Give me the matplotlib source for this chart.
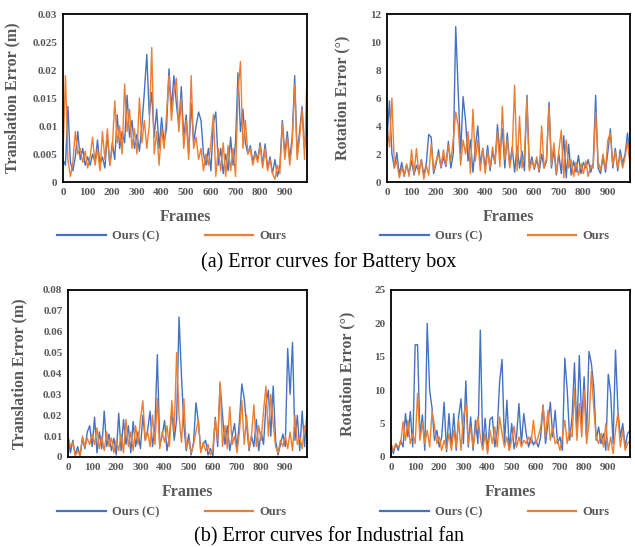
# error curves, battery box + industrial fan
import numpy as np
import matplotlib
matplotlib.use("Agg")
import matplotlib.pyplot as plt

plt.rcParams['font.family'] = ['Liberation Serif', 'DejaVu Serif']

# ── data (every 10th frame) ──────────────────────────────────────────────
FRAMES = list(range(0, 1000, 10))

battery_trans_c = [
    .0040, .0030, .0135, .0035, .0020, .0045, .0090, .0040, .0060, .0030,
    .0045, .0030, .0050, .0035, .0075, .0030, .0045, .0025, .0085, .0030,
    .0070, .0040, .0120, .0060, .0090, .0070, .0155, .0080, .0110, .0060,
    .0085, .0055, .0100, .0160, .0228, .0120, .0160, .0080, .0130, .0060,
    .0115, .0070, .0095, .0202, .0130, .0190, .0140, .0100, .0170, .0080,
    .0120, .0050, .0140, .0070, .0100, .0125, .0110, .0050, .0030, .0060,
    .0020, .0105, .0125, .0030, .0060, .0015, .0050, .0020, .0080, .0030,
    .0070, .0195, .0090, .0130, .0070, .0050, .0065, .0035, .0055, .0040,
    .0070, .0030, .0068, .0025, .0045, .0015, .0040, .0010, .0030, .0110,
    .0050, .0090, .0040, .0080, .0190, .0050, .0090, .0135, .0060, .0100]
battery_trans = [
    .0050, .0190, .0040, .0010, .0035, .0090, .0050, .0060, .0035, .0055,
    .0025, .0045, .0080, .0030, .0060, .0020, .0090, .0040, .0095, .0030,
    .0060, .0145, .0070, .0100, .0050, .0175, .0090, .0130, .0060, .0095,
    .0050, .0150, .0070, .0110, .0060, .0100, .0240, .0050, .0090, .0030,
    .0095, .0060, .0120, .0190, .0110, .0160, .0185, .0090, .0150, .0060,
    .0110, .0040, .0190, .0060, .0080, .0040, .0060, .0020, .0050, .0030,
    .0070, .0120, .0010, .0060, .0020, .0070, .0010, .0065, .0020, .0060,
    .0010, .0160, .0215, .0060, .0110, .0050, .0060, .0030, .0050, .0035,
    .0065, .0025, .0060, .0020, .0040, .0015, .0005, .0030, .0015, .0105,
    .0040, .0080, .0030, .0070, .0175, .0040, .0080, .0130, .0040, .0190]

battery_rot_c = [
    3.0, 5.8, 2.0, 1.0, 2.1, 0.5, 1.4, 0.4, 1.2, 0.6,
    1.5, 0.5, 1.2, 0.7, 1.6, 0.5, 1.3, 3.4, 3.2, 0.6,
    1.3, 2.3, 1.0, 1.8, 1.1, 2.9, 1.0, 2.0, 11.1, 6.5,
    2.0, 6.1, 4.4, 1.5, 3.0, 0.7, 2.5, 4.0, 1.2, 2.4,
    1.0, 2.6, 0.8, 2.2, 1.3, 4.1, 2.0, 3.8, 1.0, 3.5,
    1.2, 2.5, 0.7, 2.6, 1.0, 2.2, 0.8, 6.2, 1.0, 1.8,
    0.9, 1.6, 0.7, 2.0, 1.0, 1.5, 5.7, 1.0, 2.3, 0.5,
    2.0, 0.6, 3.3, 0.3, 2.7, 0.5, 1.5, 0.7, 1.9, 0.6,
    1.4, 1.0, 1.6, 0.7, 1.3, 6.2, 1.0, 0.6, 1.8, 0.7,
    2.2, 3.8, 1.0, 2.4, 0.8, 2.3, 1.3, 2.0, 3.5, 1.5]
battery_rot = [
    4.0, 2.5, 6.0, 1.0, 1.5, 0.3, 1.0, 0.5, 1.3, 0.4,
    2.3, 0.6, 2.4, 0.5, 1.6, 0.2, 1.2, 0.5, 2.7, 0.8,
    1.5, 2.0, 1.1, 2.3, 1.2, 2.6, 1.5, 3.0, 5.0, 4.0,
    1.2, 3.0, 2.0, 3.6, 0.6, 5.2, 1.5, 3.0, 0.8, 2.4,
    0.6, 2.2, 1.0, 2.5, 1.4, 3.6, 1.1, 5.4, 1.6, 3.0,
    1.0, 2.2, 6.9, 0.8, 4.7, 1.0, 2.0, 6.0, 0.8, 1.5,
    1.0, 1.8, 0.8, 4.0, 1.0, 1.7, 5.4, 1.2, 2.8, 0.6,
    2.2, 3.7, 0.3, 3.0, 1.0, 1.6, 0.4, 1.4, 0.5, 1.3,
    0.6, 1.5, 0.4, 1.2, 1.0, 5.0, 1.5, 0.8, 2.0, 0.9,
    3.0, 3.5, 1.2, 2.2, 1.0, 2.0, 1.0, 1.8, 2.9, 1.2]

fan_trans_c = [
    .0100, .0020, .0080, .0010, .0050, .0005, .0090, .0040, .0120, .0150,
    .0050, .0190, .0020, .0120, .0040, .0220, .0050, .0110, .0030, .0090,
    .0010, .0210, .0030, .0180, .0060, .0150, .0020, .0170, .0050, .0120,
    .0040, .0200, .0080, .0130, .0220, .0050, .0140, .0490, .0060, .0100,
    .0175, .0030, .0100, .0220, .0080, .0180, .0670, .0390, .0150, .0030,
    .0110, .0010, .0070, .0260, .0170, .0030, .0060, .0080, .0010, .0040,
    .0005, .0190, .0050, .0350, .0200, .0060, .0150, .0030, .0100, .0160,
    .0040, .0170, .0350, .0280, .0150, .0030, .0100, .0050, .0180, .0030,
    .0120, .0060, .0250, .0320, .0100, .0340, .0080, .0010, .0060, .0110,
    .0050, .0520, .0300, .0550, .0080, .0200, .0030, .0220, .0050, .0220]
fan_trans = [
    .0100, .0050, .0070, .0005, .0030, .0005, .0100, .0050, .0090, .0060,
    .0110, .0060, .0140, .0040, .0100, .0030, .0120, .0050, .0090, .0020,
    .0080, .0030, .0110, .0020, .0180, .0050, .0120, .0030, .0150, .0060,
    .0180, .0270, .0080, .0120, .0050, .0200, .0060, .0280, .0040, .0120,
    .0070, .0150, .0050, .0270, .0120, .0500, .0200, .0070, .0280, .0040,
    .0080, .0020, .0060, .0120, .0180, .0020, .0070, .0030, .0060, .0010,
    .0040, .0180, .0080, .0360, .0050, .0150, .0040, .0240, .0060, .0100,
    .0020, .0120, .0270, .0060, .0200, .0040, .0100, .0250, .0050, .0150,
    .0080, .0220, .0340, .0100, .0300, .0160, .0050, .0020, .0080, .0050,
    .0100, .0040, .0120, .0030, .0200, .0060, .0100, .0040, .0150, .0120]

fan_rot_c = [
    2.0, 0.5, 2.0, 1.0, 2.5, 1.5, 6.5, 3.0, 6.8, 1.5,
    16.8, 16.8, 3.0, 6.3, 1.0, 20.0, 10.0, 7.3, 2.5, 4.0,
    1.5, 3.0, 8.2, 0.8, 6.5, 1.5, 6.5, 1.0, 6.0, 8.7,
    2.0, 11.4, 1.5, 6.0, 1.0, 5.5, 2.0, 19.0, 1.5, 5.8,
    0.8, 5.6, 6.0, 1.5, 4.0, 11.3, 14.6, 2.0, 8.5, 1.0,
    5.0, 1.2, 3.0, 8.0, 2.0, 6.5, 3.5, 1.5, 3.0, 1.8,
    2.5, 1.5, 3.0, 7.8, 2.0, 5.0, 8.2, 3.0, 7.0, 2.0,
    3.0, 1.0, 14.8, 10.0, 2.5, 6.0, 14.1, 3.5, 15.2, 5.0,
    12.0, 3.0, 15.8, 14.0, 10.5, 2.5, 4.5, 2.0, 3.5, 1.0,
    12.4, 9.5, 2.0, 16.0, 7.0, 3.0, 5.0, 1.5, 3.5, 4.0]
fan_rot = [
    2.0, 1.0, 2.0, 1.5, 2.0, 5.3, 2.5, 5.5, 2.0, 3.5,
    2.0, 9.5, 2.5, 5.2, 2.0, 4.0, 1.5, 6.8, 4.7, 2.0,
    3.0, 1.0, 2.5, 1.2, 3.5, 1.0, 4.0, 1.5, 5.5, 1.0,
    6.0, 8.0, 2.0, 4.5, 1.5, 4.0, 6.0, 3.0, 1.0, 3.5,
    0.5, 4.0, 2.0, 4.5, 1.5, 6.0, 3.5, 1.5, 3.0, 1.0,
    2.5, 4.6, 1.5, 3.0, 1.5, 2.5, 2.0, 3.0, 2.0, 5.5,
    2.0, 3.0, 4.5, 7.7, 3.0, 7.0, 2.5, 4.5, 2.0, 2.5,
    1.0, 3.0, 5.5, 2.0, 4.0, 3.0, 10.2, 2.5, 8.0, 3.0,
    10.0, 2.0, 5.0, 12.8, 7.3, 3.0, 2.0, 3.5, 1.5, 5.0,
    1.0, 3.0, 0.5, 4.0, 6.5, 1.5, 4.0, 1.0, 2.0, 2.5]

X_TICKS = list(range(0, 1000, 100))
trans_bb_ticks = [0, 0.005, 0.01, 0.015, 0.02, 0.025, 0.03]
trans_bb_labels = ["0", "0.005", "0.01", "0.015", "0.02", "0.025", "0.03"]
rot_bb_ticks = [0, 2, 4, 6, 8, 10, 12]
trans_fan_ticks = [0, 0.01, 0.02, 0.03, 0.04, 0.05, 0.06, 0.07, 0.08]
trans_fan_labels = ["0", "0.01", "0.02", "0.03", "0.04", "0.05", "0.06", "0.07", "0.08"]
rot_fan_ticks = [0, 5, 10, 15, 20, 25]

LABELS = ["Ours (C)", "Ours"]
CAPTIONS = ["(a) Error curves for Battery box", "(b) Error curves for Industrial fan"]
# ──────────────────────────────────────────────────────────────────────────

BLUE = "#4472C4"
ORANGE = "#ED7D31"
GRAY = "#595959"
W, H = 635, 547


def panel(fig, box, c_vals, o_vals, yticks, ylabels, ylabel, ylab_x, leg_x, leg_y):
    l, t, r, b = box
    ax = fig.add_axes([l / W, 1 - b / H, (r - l) / W, (b - t) / H])
    h1, = ax.plot(FRAMES, c_vals, color=BLUE, lw=1.0)
    h2, = ax.plot(FRAMES, o_vals, color=ORANGE, lw=1.0)
    ax.set_xlim(0, 990)
    ax.set_ylim(yticks[0], yticks[-1])
    ax.set_xticks(X_TICKS)
    ax.set_yticks(yticks)
    ax.set_yticklabels(ylabels)
    ax.tick_params(length=0, labelsize=8, colors=GRAY, pad=4)
    for lab in ax.get_xticklabels() + ax.get_yticklabels():
        lab.set_fontweight("bold")
    for s in ax.spines.values():
        s.set_linewidth(1.3)
        s.set_color("black")
    ax.set_ylabel(ylabel, fontsize=11.5, fontweight="bold", color=GRAY)
    ax.yaxis.set_label_coords(ylab_x, 0.5)
    ax.set_xlabel("Frames", fontsize=11.5, fontweight="bold", color=GRAY)
    ax.xaxis.set_label_coords(0.5, -27 / (b - t))
    leg = fig.legend([h1, h2], LABELS, loc="center", ncol=2,
                     bbox_to_anchor=(leg_x / W, 1 - leg_y / H), frameon=False,
                     handlelength=3.9, handletextpad=0.5, columnspacing=3.6,
                     prop={"weight": "bold", "size": 9})
    for txt in leg.get_texts():
        txt.set_color(GRAY)
    for ln in leg.get_lines():
        ln.set_linewidth(1.6)
    return ax


fig = plt.figure(figsize=(W / 100, H / 100), dpi=100)

panel(fig, (63, 14, 307, 182), battery_trans_c, battery_trans,
      trans_bb_ticks, trans_bb_labels, "Translation Error (m)", -0.176, 172, 236)
panel(fig, (387, 14, 630, 182), battery_rot_c, battery_rot,
      rot_bb_ticks, [str(v) for v in rot_bb_ticks], "Rotation Error (°)", -0.15, 495, 236)
panel(fig, (68, 290, 307, 457), fan_trans_c, fan_trans,
      trans_fan_ticks, trans_fan_labels, "Translation Error (m)", -0.172, 172, 512)
panel(fig, (391, 290, 630, 457), fan_rot_c, fan_rot,
      rot_fan_ticks, [str(v) for v in rot_fan_ticks], "Rotation Error (°)", -0.15, 495, 512)

fig.text(329 / W, 1 - 262 / H, CAPTIONS[0], ha="center", va="center", fontsize=14.5)
fig.text(329 / W, 1 - 537 / H, CAPTIONS[1], ha="center", va="center", fontsize=14.5)

fig.savefig("out.png", dpi=100)
